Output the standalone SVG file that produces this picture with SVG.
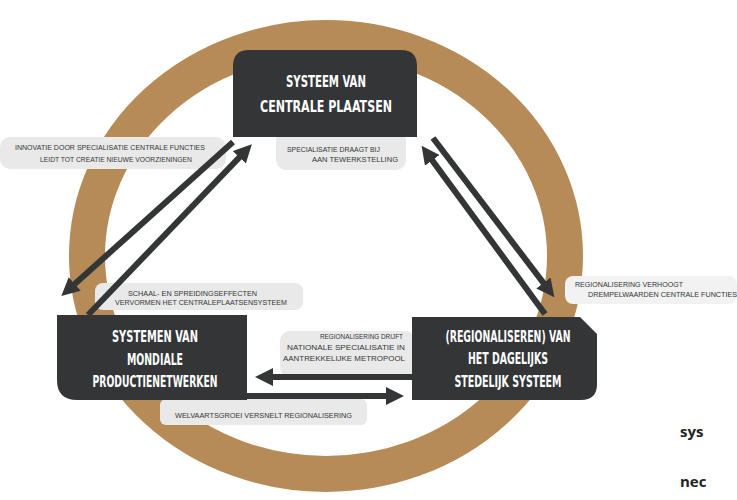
<svg xmlns="http://www.w3.org/2000/svg" width="737" height="500" viewBox="0 0 737 500">
<style>
.box{fill:#333537}
.ttl{font-family:"DejaVu Sans Condensed","DejaVu Sans",sans-serif;font-size:15px;font-weight:bold;fill:#ffffff;text-anchor:middle}
.lbl{fill:#e9e9e9}
.lt{font-family:"Liberation Sans",Arial,sans-serif;font-size:6.5px;fill:#333537}
.arr{stroke:#333537;stroke-width:6;fill:none;marker-end:url(#ah)}
.side{font-family:"Open Sans","Liberation Sans",sans-serif;font-size:15px;font-weight:bold;fill:#222222}
</style>
<defs>
<marker id="ah" viewBox="0 0 10 10" refX="5" refY="5" markerWidth="3" markerHeight="3" orient="auto" markerUnits="strokeWidth">
<path d="M0,0 L10,5 L0,10 z" fill="#333537"/>
</marker>
</defs>
<rect width="737" height="500" fill="#ffffff"/>
<ellipse id="ring" cx="326" cy="256" rx="239" ry="218" fill="none" stroke="#b68b57" stroke-width="36"/>

<g id="labels">
<g id="label-innovatie">
<rect class="lbl" x="0" y="137" width="226" height="32" rx="10"/>
<text class="lt" x="15" y="150" textLength="190" lengthAdjust="spacingAndGlyphs">INNOVATIE DOOR SPECIALISATIE CENTRALE FUNCTIES</text>
<text class="lt" x="40" y="162" textLength="152" lengthAdjust="spacingAndGlyphs">LEIDT TOT CREATIE NIEUWE VOORZIENINGEN</text>
</g>
<g id="label-specialisatie">
<rect class="lbl" x="276" y="130" width="130" height="40" rx="10"/>
<text class="lt" x="287" y="152" textLength="93" lengthAdjust="spacingAndGlyphs">SPECIALISATIE DRAAGT BIJ</text>
<text class="lt" x="312" y="162" textLength="86" lengthAdjust="spacingAndGlyphs">AAN TEWERKSTELLING</text>
</g>
<g id="label-spreiding">
<rect class="lbl" x="95" y="283" width="208" height="27" rx="8"/>
<text class="lt" x="128" y="296" textLength="129" lengthAdjust="spacingAndGlyphs">SCHAAL- EN SPREIDINGSEFFECTEN</text>
<text class="lt" x="115" y="305" textLength="172" lengthAdjust="spacingAndGlyphs">VERVORMEN HET CENTRALEPLAATSENSYSTEEM</text>
</g>
<g id="label-regionalisering">
<rect class="lbl" x="280" y="331" width="135" height="46" rx="10"/>
<text class="lt" x="320" y="339" textLength="83" lengthAdjust="spacingAndGlyphs">REGIONALISERING DRIJFT</text>
<text class="lt" x="287" y="350" textLength="118" lengthAdjust="spacingAndGlyphs">NATIONALE SPECIALISATIE IN</text>
<text class="lt" x="283" y="361" textLength="122" lengthAdjust="spacingAndGlyphs">AANTREKKELIJKE METROPOOL</text>
</g>
<g id="label-welvaart">
<rect class="lbl" x="160" y="399" width="207" height="26" rx="6"/>
<text class="lt" x="175" y="418" textLength="177" lengthAdjust="spacingAndGlyphs">WELVAARTSGROEI VERSNELT REGIONALISERING</text>
</g>
<g id="label-drempel">
<rect x="565" y="276" width="172" height="28" rx="8" fill="#f2f2f2"/>
<text class="lt" x="575" y="287" textLength="108" lengthAdjust="spacingAndGlyphs">REGIONALISERING VERHOOGT</text>
<text class="lt" x="588" y="297" textLength="149" lengthAdjust="spacingAndGlyphs">DREMPELWAARDEN CENTRALE FUNCTIES</text>
</g>
</g>

<g id="connectors">
<path class="arr" d="M233,142 L68,290"/>
<path class="arr" d="M88,315 L245.6,150.8"/>
<path class="arr" d="M545,314 L426.9,153.1"/>
<path class="arr" d="M433,138 L548.9,290.1"/>
<path class="arr" d="M412,377 L264,377"/>
<path class="arr" d="M247,396 L395,396"/>
</g>

<g id="node-centrale">
<path class="box" d="M233,137 L233,66 Q233,50 249,50 L401,50 Q417,50 417,66 L417,137 Z"/>
<text class="ttl" x="326" y="87" textLength="80" lengthAdjust="spacingAndGlyphs">SYSTEEM VAN</text>
<text class="ttl" x="326" y="112" textLength="132" lengthAdjust="spacingAndGlyphs">CENTRALE PLAATSEN</text>
</g>
<g id="node-mondiale">
<path class="box" d="M57,315 L247,315 L247,400 L77,400 Q57,400 57,380 Z"/>
<text class="ttl" x="155" y="342" textLength="86" lengthAdjust="spacingAndGlyphs">SYSTEMEN VAN</text>
<text class="ttl" x="155" y="365" textLength="56" lengthAdjust="spacingAndGlyphs">MONDIALE</text>
<text class="ttl" x="155" y="387" textLength="125" lengthAdjust="spacingAndGlyphs">PRODUCTIENETWERKEN</text>
</g>
<g id="node-stedelijk">
<path class="box" d="M412,317 L580,317 L597,334 L597,384 Q597,400 581,400 L412,400 Z"/>
<text class="ttl" x="508" y="342" textLength="125" lengthAdjust="spacingAndGlyphs">(REGIONALISEREN) VAN</text>
<text class="ttl" x="508" y="364" textLength="80" lengthAdjust="spacingAndGlyphs">HET DAGELIJKS</text>
<text class="ttl" x="508" y="387" textLength="107" lengthAdjust="spacingAndGlyphs">STEDELIJK SYSTEEM</text>
</g>

<text class="side" x="680" y="437">sys</text>
<text class="side" x="680" y="487">nec</text>
</svg>
